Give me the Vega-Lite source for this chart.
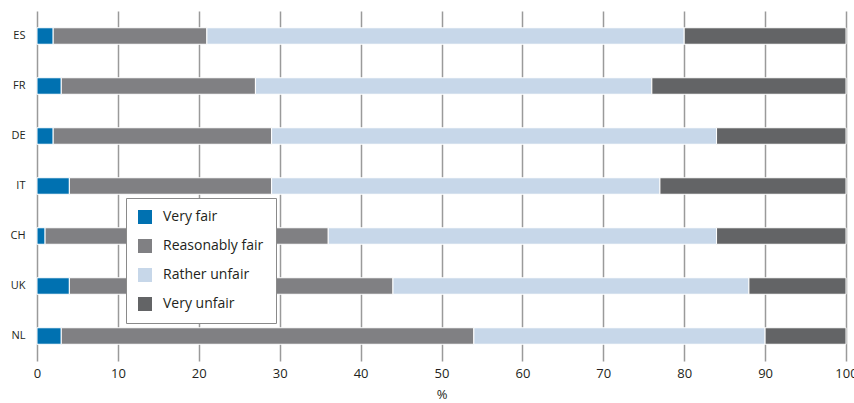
{
  "$schema": "https://vega.github.io/schema/vega-lite/v6.json",
  "width": 809,
  "height": 350,
  "autosize": "none",
  "padding": {"left": 37, "top": 11, "right": 8, "bottom": 42},
  "background": "white",
  "data": {
    "values": [
      {"country": "ES", "cat": "Very fair", "o": 1, "v": 2},
      {"country": "ES", "cat": "Reasonably fair", "o": 2, "v": 19},
      {"country": "ES", "cat": "Rather unfair", "o": 3, "v": 59},
      {"country": "ES", "cat": "Very unfair", "o": 4, "v": 20},
      {"country": "FR", "cat": "Very fair", "o": 1, "v": 3},
      {"country": "FR", "cat": "Reasonably fair", "o": 2, "v": 24},
      {"country": "FR", "cat": "Rather unfair", "o": 3, "v": 49},
      {"country": "FR", "cat": "Very unfair", "o": 4, "v": 24},
      {"country": "DE", "cat": "Very fair", "o": 1, "v": 2},
      {"country": "DE", "cat": "Reasonably fair", "o": 2, "v": 27},
      {"country": "DE", "cat": "Rather unfair", "o": 3, "v": 55},
      {"country": "DE", "cat": "Very unfair", "o": 4, "v": 16},
      {"country": "IT", "cat": "Very fair", "o": 1, "v": 4},
      {"country": "IT", "cat": "Reasonably fair", "o": 2, "v": 25},
      {"country": "IT", "cat": "Rather unfair", "o": 3, "v": 48},
      {"country": "IT", "cat": "Very unfair", "o": 4, "v": 23},
      {"country": "CH", "cat": "Very fair", "o": 1, "v": 1},
      {"country": "CH", "cat": "Reasonably fair", "o": 2, "v": 35},
      {"country": "CH", "cat": "Rather unfair", "o": 3, "v": 48},
      {"country": "CH", "cat": "Very unfair", "o": 4, "v": 16},
      {"country": "UK", "cat": "Very fair", "o": 1, "v": 4},
      {"country": "UK", "cat": "Reasonably fair", "o": 2, "v": 40},
      {"country": "UK", "cat": "Rather unfair", "o": 3, "v": 44},
      {"country": "UK", "cat": "Very unfair", "o": 4, "v": 12},
      {"country": "NL", "cat": "Very fair", "o": 1, "v": 3},
      {"country": "NL", "cat": "Reasonably fair", "o": 2, "v": 51},
      {"country": "NL", "cat": "Rather unfair", "o": 3, "v": 36},
      {"country": "NL", "cat": "Very unfair", "o": 4, "v": 10}
    ]
  },
  "mark": {"type": "bar", "size": 16.5, "stroke": "white", "strokeWidth": 1},
  "encoding": {
    "y": {
      "field": "country",
      "type": "nominal",
      "sort": ["ES", "FR", "DE", "IT", "CH", "UK", "NL"],
      "scale": {"paddingInner": 0, "paddingOuter": 0},
      "axis": {
        "title": null,
        "ticks": false,
        "domain": false,
        "grid": false,
        "labelPadding": 12,
        "labelFontSize": 11,
        "labelColor": "#231f20",
        "labelFont": "Liberation Sans Narrow, Open Sans, sans-serif"
      }
    },
    "x": {
      "field": "v",
      "type": "quantitative",
      "stack": "zero",
      "scale": {"domain": [0, 100], "nice": false},
      "axis": {
        "title": "%",
        "titleFontSize": 13,
        "titleFontWeight": "normal",
        "titleColor": "#231f20",
        "titlePadding": 8,
        "titleFont": "Liberation Sans Narrow, Open Sans, sans-serif",
        "values": [0, 10, 20, 30, 40, 50, 60, 70, 80, 90, 100],
        "grid": true,
        "gridColor": "#9a9a9a",
        "gridWidth": 1.5,
        "domain": false,
        "ticks": false,
        "labelPadding": 6,
        "labelFontSize": 13,
        "labelColor": "#231f20",
        "labelFont": "Liberation Sans Narrow, Open Sans, sans-serif",
        "labelFlush": false
      }
    },
    "color": {
      "field": "cat",
      "type": "nominal",
      "sort": ["Very fair", "Reasonably fair", "Rather unfair", "Very unfair"],
      "scale": {
        "domain": ["Very fair", "Reasonably fair", "Rather unfair", "Very unfair"],
        "range": ["#0071b1", "#808083", "#c7d7e9", "#636466"]
      },
      "legend": {
        "title": null,
        "orient": "none",
        "legendX": 89,
        "legendY": 187,
        "symbolType": "square",
        "symbolSize": 196,
        "symbolStrokeWidth": 0,
        "labelFontSize": 14,
        "labelColor": "#231f20",
        "labelFont": "Open Sans, sans-serif",
        "labelOffset": 11,
        "rowPadding": 15,
        "padding": 12,
        "strokeColor": "#8a8a8a",
        "fillColor": "white"
      }
    },
    "order": {"field": "o", "type": "quantitative"}
  },
  "config": {"view": {"stroke": null}}
}
